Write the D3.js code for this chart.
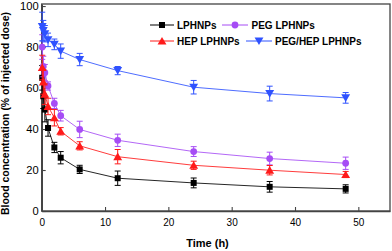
<!DOCTYPE html>
<html><head><meta charset="utf-8">
<script src="https://cdn.jsdelivr.net/npm/d3@7"></script>
<style>body{margin:0;background:#fff}svg{display:block}text{font-family:"Liberation Sans",Arial,sans-serif}</style>
</head><body><svg id="c" width="392" height="251"></svg>
<script>
const times = [0.083, 0.25, 0.5, 1, 2, 3, 6, 12, 24, 36, 48];
const seriesNames = ["LPHNPs", "PEG LPHNPs", "HEP LPHNPs", "PEG/HEP LPHNPs"];
const lphnps = [65, 56, 49.5, 40.5, 31, 26, 20.3, 16, 13.7, 11.8, 10.8];
const lphnpsErr = [6, 6, 6, 4, 2.5, 3, 2, 3.5, 2.4, 2.6, 2];
const hep = [70, 63, 57, 51, 45.5, 38.9, 31.8, 26.5, 22.3, 19.9, 17.8];
const hepErr = [6, 6, 5, 4, 4, 1.8, 2, 3.5, 2, 2.3, 1.5];
const peg = [80, 70.5, 67.5, 61, 52.5, 46.5, 39.8, 34.5, 29, 25.6, 23.3];
const pegErr = [6, 5, 4, 2, 2.5, 2.6, 4, 3, 2.4, 3.1, 3];
const peghep = [90, 88, 86.5, 83.5, 81.3, 78, 73.9, 68.5, 60.4, 57.3, 55.2];
const peghepErr = [7, 5, 4, 3.3, 2.6, 3.5, 3, 2, 3.3, 3.6, 2.6];
const xTicks = [0, 10, 20, 30, 40, 50];
const yTicks = [0, 20, 40, 60, 80, 100];

const svg = d3.select("#c");
const x = d3.scaleLinear().domain([0, 55]).range([41.7, 390]);
const y = d3.scaleLinear().domain([0, 101]).range([211, 4]);

const series = [
  {name: seriesNames[0], v: lphnps, e: lphnpsErr, color: "#000000", sym: d3.symbolSquare, size: 36, rot: 0},
  {name: seriesNames[1], v: peg, e: pegErr, color: "#a64cf5", sym: d3.symbolCircle, size: 36, rot: 0},
  {name: seriesNames[2], v: hep, e: hepErr, color: "#ff1a1a", sym: d3.symbolTriangle, size: 34, rot: 0},
  {name: seriesNames[3], v: peghep, e: peghepErr, color: "#2f52ff", sym: d3.symbolTriangle, size: 34, rot: 180}
];

// frame
const fc = "#444";
svg.append("rect").attr("x", x(0)).attr("y", y(101)).attr("width", x(55) - x(0)).attr("height", y(0) - y(101))
  .attr("fill", "none").attr("stroke", fc).attr("stroke-width", 1.3);

const xa = svg.append("g").attr("transform", `translate(0,${y(0)})`)
  .call(d3.axisBottom(x).tickValues(xTicks).tickSizeInner(-4).tickSizeOuter(0).tickPadding(8));
const ya = svg.append("g").attr("transform", `translate(${x(0)},0)`)
  .call(d3.axisLeft(y).tickValues(yTicks).tickSizeInner(-4).tickSizeOuter(0).tickPadding(3));
[xa, ya].forEach(a => {
  a.select(".domain").attr("stroke", fc).attr("stroke-width", 1.6);
  a.selectAll(".tick line").attr("stroke", fc).attr("stroke-width", 1.1);
  a.selectAll(".tick text").attr("fill", "#000").style("font-size", "10px");
});
ya.selectAll(".tick text").attr("textLength", function(){return this.textContent.length * 6.2;}).attr("lengthAdjust","spacingAndGlyphs");

// axis titles
svg.append("text").attr("x", 207.5).attr("y", 247).attr("text-anchor", "middle")
  .style("font-size", "11px").style("font-weight", "bold").text("Time (h)");
svg.append("text").attr("transform", "translate(9,113.5) rotate(-90)").attr("text-anchor", "middle")
  .style("font-size", "10.5px").style("font-weight", "bold")
  .attr("textLength", 203).attr("lengthAdjust", "spacingAndGlyphs")
  .text("Blood concentration (% of injected dose)");

const line = d3.line().x((d, i) => x(times[i])).y(d => y(d));
series.forEach(s => {
  const g = svg.append("g");
  g.append("path").datum(s.v).attr("d", line).attr("fill", "none").attr("stroke", s.color).attr("stroke-width", 1).attr("opacity", 0.85);
  s.v.forEach((v, i) => {
    const cx = x(times[i]);
    const y1 = y(v + s.e[i]), y2 = y(v - s.e[i]);
    g.append("line").attr("x1", cx).attr("x2", cx).attr("y1", y1).attr("y2", y2).attr("stroke", s.color).attr("stroke-width", 1);
    [y1, y2].forEach(yy => g.append("line").attr("x1", cx - 3).attr("x2", cx + 3).attr("y1", yy).attr("y2", yy).attr("stroke", s.color).attr("stroke-width", 1));
    g.append("path").attr("d", d3.symbol().type(s.sym).size(s.size)())
      .attr("transform", `translate(${cx},${y(v) + (s.rot ? -1 : (s.sym === d3.symbolTriangle ? 1 : 0))}) rotate(${s.rot})`)
      .attr("fill", s.color);
  });
});

// legend
const leg = [
  {s: series[0], x0: 150, x1: 174, ty: 25, tx: 177},
  {s: series[1], x0: 222, x1: 248, ty: 25, tx: 251.5},
  {s: series[2], x0: 150, x1: 174, ty: 41, tx: 177},
  {s: series[3], x0: 246, x1: 272, ty: 41, tx: 275}
];
leg.forEach(l => {
  const g = svg.append("g");
  g.append("line").attr("x1", l.x0).attr("x2", l.x1).attr("y1", l.ty).attr("y2", l.ty).attr("stroke", l.s.color).attr("stroke-width", 1);
  const mx = (l.x0 + l.x1) / 2;
  g.append("path").attr("d", d3.symbol().type(l.s.sym).size(l.s.size)())
    .attr("transform", `translate(${mx},${l.ty + (l.s.rot ? -1 : (l.s.sym === d3.symbolTriangle ? 1 : 0))}) rotate(${l.s.rot})`).attr("fill", l.s.color);
  g.append("text").attr("x", l.tx).attr("y", l.ty + 3.8).style("font-size", "10px").style("font-weight", "bold").text(l.s.name);
});
</script></body></html>
